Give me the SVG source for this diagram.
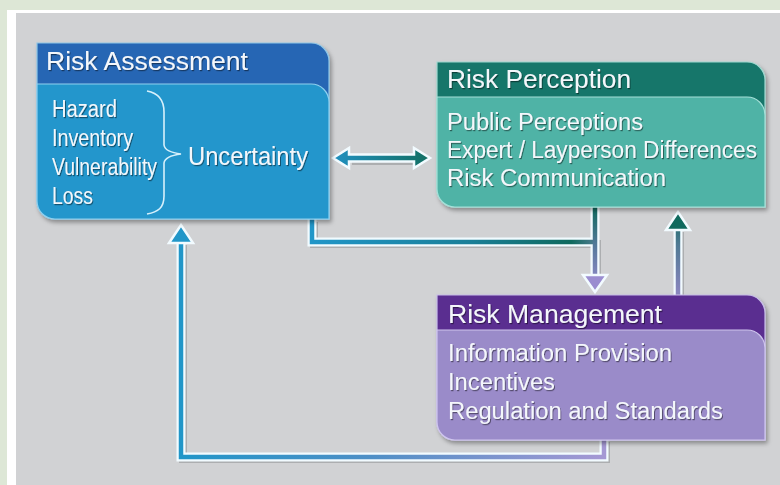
<svg xmlns="http://www.w3.org/2000/svg" width="780" height="485" viewBox="0 0 780 485">
<defs>
<style>
.t{font-family:"Liberation Sans",Arial,sans-serif;fill:#f4f7fb;}
.h{font-size:25px;}
.b{font-size:23px;}
.s{font-size:23px;}
.wo{fill:none;stroke:#f2fbff;stroke-width:9;stroke-linejoin:miter;}
.sh{fill:none;stroke:#8e9092;stroke-width:8;opacity:0.55;}
.ln{fill:none;stroke-width:4.5;stroke-linejoin:miter;}
.hd{stroke:#f2fbff;stroke-width:2.5;stroke-linejoin:miter;}
</style>
<filter id="ts" x="-10%" y="-30%" width="120%" height="160%">
<feDropShadow dx="1" dy="1.2" stdDeviation="0.7" flood-color="#000" flood-opacity="0.45"/>
</filter>
<filter id="bs" x="-10%" y="-10%" width="120%" height="130%">
<feDropShadow dx="2" dy="3" stdDeviation="2" flood-color="#000" flood-opacity="0.35"/>
</filter>
<linearGradient id="gDbl" gradientUnits="userSpaceOnUse" x1="335" y1="0" x2="430" y2="0">
<stop offset="0" stop-color="#1f8fbe"/><stop offset="1" stop-color="#126f62"/>
</linearGradient>
<linearGradient id="gMid" gradientUnits="userSpaceOnUse" x1="312" y1="0" x2="600" y2="0">
<stop offset="0" stop-color="#2196c8"/><stop offset="0.55" stop-color="#1a7f98"/><stop offset="0.9" stop-color="#0f6a5e"/><stop offset="1" stop-color="#5b7f9a"/>
</linearGradient>
<linearGradient id="gDown" gradientUnits="userSpaceOnUse" x1="0" y1="207" x2="0" y2="292">
<stop offset="0" stop-color="#0f6a5e"/><stop offset="0.5" stop-color="#5b7aa0"/><stop offset="1" stop-color="#9a8dd0"/>
</linearGradient>
<linearGradient id="gUp" gradientUnits="userSpaceOnUse" x1="0" y1="295" x2="0" y2="211">
<stop offset="0" stop-color="#8c86c0"/><stop offset="0.6" stop-color="#4f7a94"/><stop offset="1" stop-color="#0f6a5e"/>
</linearGradient>
<linearGradient id="gLoop" gradientUnits="userSpaceOnUse" x1="181" y1="0" x2="604" y2="0">
<stop offset="0" stop-color="#2196c8"/><stop offset="0.45" stop-color="#4e8fc6"/><stop offset="1" stop-color="#a598d4"/>
</linearGradient>
</defs>

<rect x="0" y="0" width="780" height="485" fill="#dde7d6"/>
<rect x="7" y="10" width="773" height="475" fill="#ffffff"/>
<rect x="16" y="13" width="764" height="472" fill="#d1d2d4"/>

<g id="connectors">
  <!-- double arrow Risk Assessment <-> Risk Perception -->
  <g id="c-ra-rp">
    <path class="sh" d="M352,161 H416"/>
    <path d="M333,158 L349,148 L349,154.5 L414,154.5 L414,148 L430,158 L414,168 L414,161.5 L349,161.5 L349,168 Z" fill="url(#gDbl)" class="hd"/>
  </g>
  <!-- Risk Assessment -> Risk Management, Risk Perception -> Risk Management -->
  <g id="c-ra-rm">
    <path class="sh" d="M314,222 V244 H597 V278"/>
    <path class="wo" d="M312,219 V242 H595"/>
    <path class="wo" d="M595,207 V278"/>
    <path class="ln" stroke="url(#gMid)" d="M312,219 V242 H595"/>
    <path class="ln" stroke="url(#gDown)" d="M595,207 V279"/>
    <polygon class="hd" fill="#9a8dd0" points="583,275 607,275 595,292"/>
  </g>
  <!-- Risk Management -> Risk Perception -->
  <g id="c-rm-rp">
    <path class="sh" d="M680,295 V232"/>
    <path class="wo" d="M678,295 V229"/>
    <path class="ln" stroke="url(#gUp)" d="M678,295 V228"/>
    <polygon class="hd" fill="#0f6a5e" points="666,230 690,230 678,212"/>
  </g>
  <!-- Risk Management -> Risk Assessment -->
  <g id="c-rm-ra">
    <path class="sh" d="M606,442 V459 H183 V245"/>
    <path class="wo" d="M604,440 V457 H181 V242"/>
    <path class="ln" stroke="url(#gLoop)" d="M604,440 V457 H181 V241"/>
    <polygon class="hd" fill="#2196c8" points="169,243 193,243 181,225"/>
  </g>
</g>

<g id="risk-assessment">
  <path filter="url(#bs)" d="M37,43 H311 A18,18 0 0 1 329,61 V219 H55 A18,18 0 0 1 37,201 Z" fill="#2566b4" stroke="#8fc6e6" stroke-width="1.2"/>
  <path d="M37,84 H311 A18,18 0 0 1 329,102 V219 H55 A18,18 0 0 1 37,201 Z" fill="#2396cc" stroke="#8fd0ee" stroke-width="1.2"/>
  <path d="M147,91 C158,93 164,100 164,112 L164,145 Q165,152 181,154 Q165,156 164,163 L164,196 C164,208 158,212 147,214" fill="none" stroke="#d6f0fb" stroke-width="1.6"/>
  <g filter="url(#ts)">
    <text class="t h" x="46" y="70" textLength="202" lengthAdjust="spacingAndGlyphs">Risk Assessment</text>
    <text class="t s" x="52" y="117" textLength="65" lengthAdjust="spacingAndGlyphs">Hazard</text>
    <text class="t s" x="52" y="146" textLength="81" lengthAdjust="spacingAndGlyphs">Inventory</text>
    <text class="t s" x="52" y="175" textLength="105" lengthAdjust="spacingAndGlyphs">Vulnerability</text>
    <text class="t s" x="52" y="204" textLength="41" lengthAdjust="spacingAndGlyphs">Loss</text>
    <text class="t h" x="188" y="165" textLength="120" lengthAdjust="spacingAndGlyphs">Uncertainty</text>
  </g>
</g>

<g id="risk-perception">
  <path filter="url(#bs)" d="M437,62 H747 A18,18 0 0 1 765,80 V207 H455 A18,18 0 0 1 437,189 Z" fill="#15766a" stroke="#9fd8cf" stroke-width="1.2"/>
  <path d="M437,97 H747 A18,18 0 0 1 765,115 V207 H455 A18,18 0 0 1 437,189 Z" fill="#4fb3a6" stroke="#a5e0d8" stroke-width="1.2"/>
  <g filter="url(#ts)">
    <text class="t h" x="447" y="88" textLength="184" lengthAdjust="spacingAndGlyphs">Risk Perception</text>
    <text class="t b" x="447" y="130" textLength="196" lengthAdjust="spacingAndGlyphs">Public Perceptions</text>
    <text class="t b" x="447" y="158" textLength="310" lengthAdjust="spacingAndGlyphs">Expert / Layperson Differences</text>
    <text class="t b" x="447" y="186" textLength="219" lengthAdjust="spacingAndGlyphs">Risk Communication</text>
  </g>
</g>

<g id="risk-management">
  <path filter="url(#bs)" d="M437,295 H747 A18,18 0 0 1 765,313 V440 H455 A18,18 0 0 1 437,422 Z" fill="#5a2d90" stroke="#c7bde8" stroke-width="1.2"/>
  <path d="M437,330 H747 A18,18 0 0 1 765,348 V440 H455 A18,18 0 0 1 437,422 Z" fill="#9a8bc9" stroke="#cfc6ee" stroke-width="1.2"/>
  <g filter="url(#ts)">
    <text class="t h" x="448" y="323" textLength="214" lengthAdjust="spacingAndGlyphs">Risk Management</text>
    <text class="t b" x="448" y="361" textLength="224" lengthAdjust="spacingAndGlyphs">Information Provision</text>
    <text class="t b" x="448" y="390" textLength="107" lengthAdjust="spacingAndGlyphs">Incentives</text>
    <text class="t b" x="448" y="419" textLength="275" lengthAdjust="spacingAndGlyphs">Regulation and Standards</text>
  </g>
</g>
</svg>
